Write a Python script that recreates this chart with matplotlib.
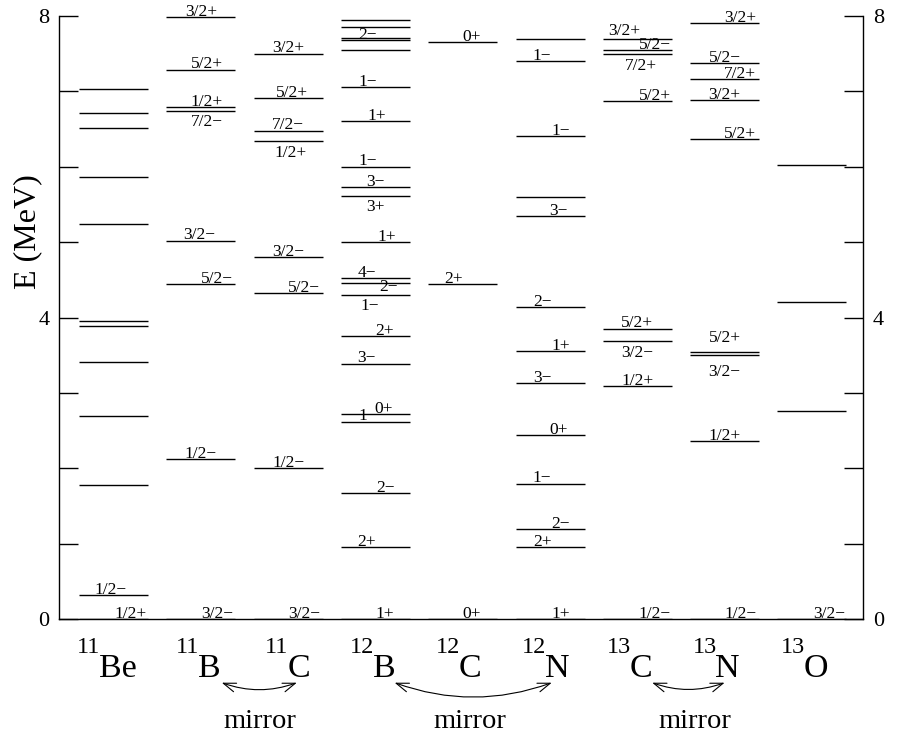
import matplotlib
matplotlib.use('Agg')
import matplotlib.pyplot as plt
from matplotlib.patches import FancyArrowPatch

plt.rcParams['font.family'] = ['Liberation Serif', 'DejaVu Serif']
M = '\u2212'

# nuclei
mass = ['11', '11', '11', '12', '12', '12', '13', '13', '13']
symbol = ['Be', 'B', 'C', 'B', 'C', 'N', 'C', 'N', 'O']

# level energies (MeV) and spin/parity labels per nucleus
be11_E = [0.0, 0.32, 1.78, 2.69, 3.41, 3.89, 3.96, 5.24, 5.86, 6.51, 6.71, 7.03]
be11_J = ['1/2+', '1/2'+M, '', '', '', '', '', '', '', '', '', '']

b11_E = [0.0, 2.125, 4.445, 5.020, 6.743, 6.792, 7.286, 7.978]
b11_J = ['3/2'+M, '1/2'+M, '5/2'+M, '3/2'+M, '7/2'+M, '1/2+', '5/2+', '3/2+']

c11_E = [0.0, 2.000, 4.319, 4.804, 6.339, 6.478, 6.905, 7.499]
c11_J = ['3/2'+M, '1/2'+M, '5/2'+M, '3/2'+M, '1/2+', '7/2'+M, '5/2+', '3/2+']

b12_E = [0.0, 0.953, 1.674, 2.621, 2.723, 3.389, 3.759, 4.301, 4.460, 4.518,
         5.00, 5.612, 5.726, 6.00, 6.60, 7.06, 7.55, 7.68, 7.71, 7.85, 7.95]
b12_J = ['1+', '2+', '2'+M, '1'+M, '0+', '3'+M, '2+', '1'+M, '2'+M, '4'+M,
         '1+', '3+', '3'+M, '1'+M, '1+', '1'+M, '', '2'+M, '', '', '']

c12_E = [0.0, 4.439, 7.654]
c12_J = ['0+', '2+', '0+']

n12_E = [0.0, 0.960, 1.191, 1.80, 2.439, 3.132, 3.558, 4.14, 5.348, 5.60, 6.40, 7.40, 7.686]
n12_J = ['1+', '2+', '2'+M, '1'+M, '0+', '3'+M, '1+', '2'+M, '3'+M, '', '1'+M, '1'+M, '']

c13_E = [0.0, 3.089, 3.684, 3.854, 6.864, 7.492, 7.547, 7.686]
c13_J = ['1/2'+M, '1/2+', '3/2'+M, '5/2+', '5/2+', '7/2+', '5/2'+M, '3/2+']

n13_E = [0.0, 2.365, 3.502, 3.547, 6.364, 6.886, 7.155, 7.376, 7.90]
n13_J = ['1/2'+M, '1/2+', '3/2'+M, '5/2+', '5/2+', '3/2+', '7/2+', '5/2'+M, '3/2+']

o13_E = [0.0, 2.76, 4.21, 6.02]
o13_J = ['3/2'+M, '', '', '']

energies = [be11_E, b11_E, c11_E, b12_E, c12_E, n12_E, c13_E, n13_E, o13_E]
spins = [be11_J, b11_J, c11_J, b12_J, c12_J, n12_J, c13_J, n13_J, o13_J]

# label placement (dx in column units, dy in MeV), layout only
B = -0.22
label_pos = [
    [(0.19, 0), (-0.03, 0)] + [(0, 0)] * 10,
    [(0.19, 0), (0, 0), (0.19, 0), (-0.02, 0), (0.07, B), (0.07, 0), (0.07, 0), (0, 0)],
    [(0.18, 0), (0, 0), (0.18, 0), (0, 0), (0.03, B), (0, 0), (0.05, 0), (0, 0)],
    [(0.11, 0), (-0.1, 0), (0.11, 0), (-0.09, 0), (0.09, 0), (-0.1, 0), (0.11, 0),
     (-0.06, B), (0.15, -0.12), (-0.1, 0), (0.13, 0), (0, B), (0, 0), (-0.09, 0),
     (0.02, 0), (-0.09, 0), (0, 0), (-0.09, 0), (0, 0), (0, 0), (0, 0)],
    [(0.1, 0), (-0.1, 0), (0.1, 0)],
    [(0.12, 0), (-0.09, 0), (0.12, 0), (-0.09, 0), (0.1, 0), (-0.09, 0), (0.12, 0),
     (-0.09, 0), (0.1, 0), (0, 0), (0.12, 0), (-0.09, 0), (0, 0)],
    [(0.2, 0), (0, 0), (0, B), (0, 0), (0.2, 0), (0.04, B), (0.2, 0), (-0.15, 0.05)],
    [(0.18, 0), (0, 0), (0, -0.29), (0, 0.11), (0.18, 0), (0, 0), (0.18, 0), (0, 0), (0.18, 0)],
    [(0.2, 0), (0, 0), (0, 0), (0, 0)],
]
mass_dx = [-0.155, -0.02, 0.006, -0.017, -0.03, -0.04, -0.075, -0.09, -0.075]

fig = plt.figure(figsize=(8.97, 7.35), dpi=100)
ax = fig.add_axes([0.0663, 0.1574, 0.8958, 0.8212])

half = 0.395
for i, (E, J) in enumerate(zip(energies, spins)):
    ax.hlines(E, i - half, i + half, color='black', lw=1.0)
    for e, j, (dx, dy) in zip(E, J, label_pos[i]):
        if j:
            ax.text(i + dx, e + dy + 0.015, j, ha='center', va='baseline', fontsize=12.5)
    ax.text(i + mass_dx[i], -0.44, mass[i], ha='right', va='baseline',
            fontsize=17.5, clip_on=False)
    ax.text(i + mass_dx[i] - 0.015, -0.76, symbol[i], ha='left', va='baseline',
            fontsize=24.5, clip_on=False)

# mirror pairs
pairs = [((1.24, 2.10), 1.68), ((3.22, 5.02), 4.08), ((6.17, 7.0), 6.66)]
for (x0, x1), xm in pairs:
    arr = FancyArrowPatch((x0, -0.84), (x1, -0.84), arrowstyle='<->,head_length=0.5,head_width=0.18',
                          connectionstyle='arc3,rad=0.18', mutation_scale=18,
                          color='black', lw=0.8, shrinkA=0, shrinkB=0, clip_on=False)
    ax.add_patch(arr)
    ax.text(xm, -1.44, 'mirror', ha='center', va='baseline', fontsize=20.5, clip_on=False)

ax.set_xlim(-0.619, 8.585)
ax.set_ylim(0, 8)
ax.spines['top'].set_visible(False)
for s in ('left', 'right', 'bottom'):
    ax.spines[s].set_linewidth(1.0)
ax.set_xticks([])
ax.set_yticks(range(9))
ax.set_yticklabels(['0', '', '', '', '4', '', '', '', '8'])
ax.tick_params(axis='y', direction='in', length=14, width=1.0, labelsize=16,
               right=True, labelright=True, pad=7)

fig.text(28 / 897, 1 - 232 / 735, 'E (MeV)', rotation=90, ha='center', va='center', fontsize=23)

fig.savefig('out.png', dpi=100)
